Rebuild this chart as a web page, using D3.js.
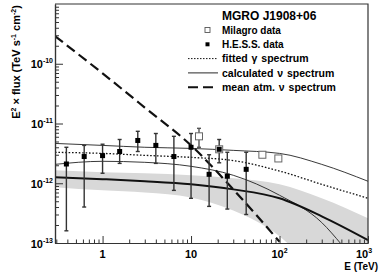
<!DOCTYPE html>
<html>
<head>
<meta charset="utf-8">
<script src="https://cdn.jsdelivr.net/npm/d3@7"></script>
<style>
  body { margin: 0; background: #fff; }
  svg { display: block; font-family: "Liberation Sans", Arial, Helvetica, sans-serif; font-weight: bold; }
</style>
</head>
<body>
<svg id="chart" width="382" height="274"></svg>
<script>
// E in TeV, values are E^2 x flux in TeV s^-1 cm^-2
var hessE = [0.39, 0.62, 1.0, 1.56, 2.5, 4.0, 6.4, 10, 16, 20.8, 25.7, 42];
var hessF = [2.1e-12, 2.8e-12, 2.9e-12, 3.4e-12, 5.2e-12, 4.3e-12, 2.8e-12, 4.0e-12, 1.41e-12, 3.7e-12, 1.31e-12, 1.71e-12];
var hessHi = [4.0e-12, 4.3e-12, 4.5e-12, 5.4e-12, 7.4e-12, 6.8e-12, 6.1e-12, 6.8e-12, 3.0e-12, 5.4e-12, 3.3e-12, 3.3e-12];
var hessLo = [1.6e-13, 4.0e-13, 1.47e-12, 2.15e-12, 3.4e-12, 2.15e-12, 7.6e-13, 5.6e-13, 4.1e-13, 2.2e-12, 3.7e-13, 3.0e-13];

var milagroE = [12.3, 20.8, 64, 97];
var milagroF = [6.1e-12, 3.7e-12, 3.0e-12, 2.6e-12];
var milagroHi = [8.3e-12, null, null, null];
var milagroLo = [4.0e-12, null, null, null];

var curveE = [0.29, 1, 3, 10, 30, 100, 300, 1000];
var fittedGamma = [3.29e-12, 3.16e-12, 2.93e-12, 2.71e-12, 2.4e-12, 1.6e-12, 9.6e-13, 5.6e-13];
var nuUpper = [4.64e-12, 4.3e-12, 4.0e-12, 3.83e-12, 3.55e-12, 3.16e-12, 2.07e-12, 1.08e-12];
var nuMean = [1.26e-12, 1.17e-12, 1.08e-12, 9.6e-13, 7.9e-13, 5.6e-13, 2.8e-13, 1.12e-13];
var bandHi = [1.65e-12, 1.53e-12, 1.47e-12, 1.36e-12, 1.21e-12, 9.6e-13, 5.6e-13, 2.6e-13];
var bandLo = [8.6e-13, 7.6e-13, 7.0e-13, 5.8e-13, 3.5e-13, 1.3e-13, 2.5e-14, 5e-15];

var cutoffE = [0.29, 1, 3, 10, 30, 100, 300, 500];
var nuCutoff = [2.07e-12, 2.33e-12, 2.24e-12, 1.92e-12, 1.36e-12, 6.3e-13, 2.2e-13, 9.5e-14];

var atmE = [0.29, 1, 3, 10, 30, 100];
var atmF = [2.9e-10, 6.9e-11, 1.85e-11, 4.3e-12, 7.9e-13, 1.05e-13];

var xMajor = [1, 10, 100, 1000];
var xMajorLabels = [["1", ""], ["10", ""], ["10", "2"], ["10", "3"]];
var yMajor = [1e-13, 1e-12, 1e-11, 1e-10];
var yMajorLabels = ["-13", "-12", "-11", "-10"];

var legendTitle = "MGRO J1908+06";

var svg = d3.select("#chart");
var plotLeft = 55, plotRight = 368, plotTop = 4, plotBottom = 243;

var x = d3.scaleLog().domain([0.29, 1000]).range([plotLeft, plotRight]);
var y = d3.scaleLog().domain([1e-13, 1e-9]).range([plotBottom, plotTop]);

svg.append("defs").append("clipPath").attr("id", "plot")
  .append("rect").attr("x", plotLeft).attr("y", plotTop)
  .attr("width", plotRight - plotLeft).attr("height", plotBottom - plotTop);

var plot = svg.append("g").attr("clip-path", "url(#plot)");

function pairs(es, fs) {
  return es.map(function(e, i) { return [e, fs[i]]; });
}

var line = d3.line()
  .x(function(d) { return x(d[0]); })
  .y(function(d) { return y(d[1]); })
  .curve(d3.curveMonotoneX);

var area = d3.area()
  .x(function(d) { return x(d.e); })
  .y0(function(d) { return y(d.lo); })
  .y1(function(d) { return y(d.hi); })
  .curve(d3.curveMonotoneX);

plot.append("path")
  .datum(curveE.map(function(e, i) { return { e: e, lo: bandLo[i], hi: bandHi[i] }; }))
  .attr("d", area)
  .style("fill", "#d8d8d8");

plot.append("path").datum(pairs(curveE, nuUpper)).attr("d", line)
  .style("fill", "none").style("stroke", "#222").style("stroke-width", 0.9);
plot.append("path").datum(pairs(cutoffE, nuCutoff)).attr("d", line)
  .style("fill", "none").style("stroke", "#222").style("stroke-width", 0.9);
plot.append("path").datum(pairs(curveE, fittedGamma)).attr("d", line)
  .style("fill", "none").style("stroke", "#111").style("stroke-width", 1.3)
  .style("stroke-dasharray", "1.6,1.8");
plot.append("path").datum(pairs(curveE, nuMean)).attr("d", line)
  .style("fill", "none").style("stroke", "#111").style("stroke-width", 2);
plot.append("path").datum(pairs(atmE, atmF)).attr("d", line)
  .style("fill", "none").style("stroke", "#111").style("stroke-width", 2.2)
  .style("stroke-dasharray", "10,5");

// error bars
function errorBars(es, his, los, color) {
  var g = plot.append("g").style("stroke", color).style("stroke-width", 1.4);
  es.forEach(function(e, i) {
    if (his[i] == null) return;
    var cx = x(e);
    g.append("line").attr("x1", cx).attr("x2", cx)
      .attr("y1", y(his[i])).attr("y2", y(los[i]));
    g.append("line").attr("x1", cx - 2).attr("x2", cx + 2)
      .attr("y1", y(his[i])).attr("y2", y(his[i]));
    g.append("line").attr("x1", cx - 2).attr("x2", cx + 2)
      .attr("y1", y(los[i])).attr("y2", y(los[i]));
  });
}
errorBars(hessE, hessHi, hessLo, "#333");
errorBars(milagroE, milagroHi, milagroLo, "#555");

plot.selectAll("rect.milagro").data(pairs(milagroE, milagroF)).enter()
  .append("rect").attr("class", "milagro")
  .attr("x", function(d) { return x(d[0]) - 3.5; })
  .attr("y", function(d) { return y(d[1]) - 3.5; })
  .attr("width", 7).attr("height", 7)
  .style("fill", "#fff").style("stroke", "#666").style("stroke-width", 1);

plot.selectAll("rect.hess").data(pairs(hessE, hessF)).enter()
  .append("rect").attr("class", "hess")
  .attr("x", function(d) { return x(d[0]) - 2.5; })
  .attr("y", function(d) { return y(d[1]) - 2.5; })
  .attr("width", 5).attr("height", 5)
  .style("fill", "#000");

// minor tick values
var xMinor = [];
[0.1, 1, 10, 100].forEach(function(d) {
  for (var k = 2; k <= 9; k += 1) {
    var v = d * k;
    if (v >= 0.29 && v <= 1000) xMinor.push(v);
  }
});
var yMinor = [];
[1e-13, 1e-12, 1e-11, 1e-10].forEach(function(d) {
  for (var k = 2; k <= 9; k += 1) yMinor.push(d * k);
});

var axes = svg.append("g").style("color", "#333");

axes.append("g").attr("transform", "translate(0," + plotBottom + ")")
  .call(d3.axisBottom(x).tickValues(xMinor).tickSizeInner(-3.5).tickSizeOuter(0).tickFormat(""));
axes.append("g").attr("transform", "translate(0," + plotBottom + ")")
  .call(d3.axisBottom(x).tickValues(xMajor).tickSizeInner(-7).tickSizeOuter(0).tickFormat(""));

axes.append("g").attr("transform", "translate(" + plotLeft + ",0)")
  .call(d3.axisLeft(y).tickValues(yMinor).tickSizeInner(-4).tickSizeOuter(0).tickFormat(""));
axes.append("g").attr("transform", "translate(" + plotLeft + ",0)")
  .call(d3.axisLeft(y).tickValues(yMajor).tickSizeInner(-8).tickSizeOuter(0).tickFormat(""));

axes.selectAll(".domain").style("stroke", "#333").style("stroke-width", 1.2);
axes.selectAll(".tick line").style("stroke-width", 1);

// frame top/right
svg.append("path")
  .attr("d", "M" + plotLeft + "," + plotTop + "H" + plotRight + "V" + plotBottom)
  .style("fill", "none").style("stroke", "#333").style("stroke-width", 1.2);

// x tick labels
xMajor.forEach(function(v, i) {
  var t = svg.append("text")
    .attr("x", i === xMajor.length - 1 ? x(v) - 4 : x(v))
    .attr("y", 258)
    .attr("text-anchor", "middle")
    .style("font-size", "11px");
  t.append("tspan").text(xMajorLabels[i][0]);
  if (xMajorLabels[i][1]) {
    t.append("tspan").attr("dy", -5).style("font-size", "7px").text(xMajorLabels[i][1]);
  }
});

// y tick labels
yMajor.forEach(function(v, i) {
  var t = svg.append("text")
    .attr("x", 53)
    .attr("y", y(v) + 4.5)
    .attr("text-anchor", "end")
    .style("font-size", "11px");
  t.append("tspan").text("10");
  t.append("tspan").attr("dy", -5).style("font-size", "7px").text(yMajorLabels[i]);
});

// axis titles
svg.append("text")
  .attr("x", 378).attr("y", 270)
  .attr("text-anchor", "end")
  .style("font-size", "10px")
  .text("E (TeV)");

var yt = svg.append("text")
  .attr("transform", "translate(20,62) rotate(-90)")
  .attr("text-anchor", "middle")
  .style("font-size", "11px");
yt.append("tspan").text("E");
yt.append("tspan").attr("dy", -4).style("font-size", "7px").text("2");
yt.append("tspan").attr("dy", 4).text(" \u00d7 flux (TeV s");
yt.append("tspan").attr("dy", -4).style("font-size", "7px").text("-1");
yt.append("tspan").attr("dy", 4).text(" cm");
yt.append("tspan").attr("dy", -4).style("font-size", "7px").text("-2");
yt.append("tspan").attr("dy", 4).text(")");

// legend
var lg = svg.append("g");
lg.append("text").attr("x", 222).attr("y", 20)
  .style("font-size", "12px").text(legendTitle);

var legendRows = [
  { label: "Milagro data", kind: "open" },
  { label: "H.E.S.S. data", kind: "filled" },
  { label: "fitted \u03b3 spectrum", kind: "dotted" },
  { label: "calculated \u03bd spectrum", kind: "thin" },
  { label: "mean atm. \u03bd spectrum", kind: "dashed" }
];
legendRows.forEach(function(r, i) {
  var cy = 30 + i * 14.3;
  var isLine = false;
  if (r.kind === "open") {
    lg.append("rect").attr("x", 205).attr("y", cy - 2.5).attr("width", 5).attr("height", 5)
      .style("fill", "#fff").style("stroke", "#555").style("stroke-width", 0.9);
  } else if (r.kind === "filled") {
    lg.append("rect").attr("x", 205.5).attr("y", cy - 2).attr("width", 4).attr("height", 4)
      .style("fill", "#000");
  } else {
    isLine = true;
    var ln = lg.append("line").attr("x1", 188).attr("x2", 218)
      .attr("y1", cy).attr("y2", cy).style("stroke", "#111");
    if (r.kind === "dotted") ln.style("stroke-width", 1).style("stroke-dasharray", "1.5,1.5");
    if (r.kind === "thin") ln.style("stroke-width", 0.9);
    if (r.kind === "dashed") ln.style("stroke-width", 2).style("stroke-dasharray", "10,5");
  }
  lg.append("text").attr("x", 222).attr("y", cy + 3.8)
    .style("font-size", isLine ? "10.5px" : "10px")
    .style("word-spacing", isLine ? "1px" : null)
    .text(r.label);
});
</script>
</body>
</html>
